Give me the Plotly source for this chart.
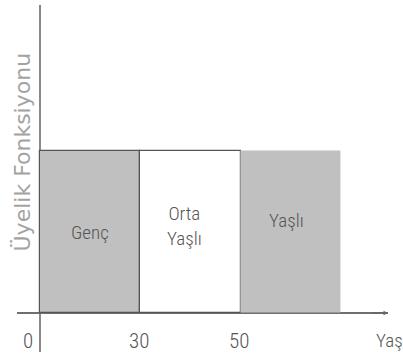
import plotly.graph_objects as go

# Membership sets (interval index 0..3 maps to ages 0, 30, 50, ...)
set_names = ['Genç', 'Orta<br>Yaşlı', 'Yaşlı']
set_start = [0, 1, 2]
set_width = [1, 1, 1]
membership = [1, 1, 1]
fill_colors = ['#c0c0c0', '#ffffff', '#c0c0c0']
edge_colors = ['#555555', '#555555', 'rgba(0,0,0,0)']

tick_pos = [0, 1, 2]
tick_text = ['0', '30', '50']

narrow = 'Roboto Condensed, Roboto, sans-serif'
label_font = {'family': narrow, 'size': 19, 'color': '#555555', 'weight': 300}
tick_font = {'family': narrow, 'size': 21, 'color': '#555555', 'weight': 300}

fig = go.Figure()
fig.add_trace(go.Bar(
    x=[s + w / 2 for s, w in zip(set_start, set_width)],
    y=membership,
    width=set_width,
    marker={'color': fill_colors, 'line': {'color': edge_colors, 'width': 1.2}},
    hoverinfo='skip',
    showlegend=False,
))

annotations = []
# label placement inside each set (layout only)
label_x = [0.5, 1.44, 2.46]
label_y = [0.5, 0.54, 0.57]
for name, lx, ly in zip(set_names, label_x, label_y):
    annotations.append(dict(x=lx, y=ly, text=name, showarrow=False, font=label_font))

tick_x = [-0.12, 0.99, 1.98]
for t, tx in zip(tick_text, tick_x):
    annotations.append(dict(x=tx, y=-0.17, text=t, showarrow=False, font=tick_font))

# axis name at the far right (kept inside the page)
annotations.append(dict(x=3.33, y=-0.17, text='Yaş', showarrow=False, xanchor='left',
                        font={**tick_font, 'size': 19}))

# y axis title
annotations.append(dict(xref='paper', yref='paper', x=0.0135, y=0.575, text='Üyelik Fonksiyonu',
                        textangle=-90, showarrow=False, xanchor='center', yanchor='middle',
                        font={'family': 'DejaVu Sans', 'size': 22, 'color': '#a3a3a3'}))

# arrow heads
annotations.append(dict(x=3.47, y=0, ax=3.3, ay=0, axref='x', ayref='y', text='',
                        showarrow=True, arrowhead=2, arrowsize=0.6, arrowwidth=1.5, arrowcolor='#666666'))
annotations.append(dict(x=0, y=1.9, ax=0, ay=1.75, axref='x', ayref='y', text='',
                        showarrow=True, arrowhead=2, arrowsize=0.4, arrowwidth=1.2, arrowcolor='#888888'))

fig.update_layout(
    width=403, height=360,
    margin={'l': 17, 'r': 15, 't': 5, 'b': 8, 'autoexpand': False},
    paper_bgcolor='white', plot_bgcolor='white',
    annotations=annotations,
    bargap=0,
)
fig.update_xaxes(range=[-0.23, 3.47], showgrid=False, showticklabels=False, ticks='',
                 zeroline=True, zerolinecolor='#8a8a8a', zerolinewidth=1.5)
fig.update_yaxes(range=[-0.24, 1.9], showgrid=False, showticklabels=False, ticks='',
                 zeroline=True, zerolinecolor='#6f6f6f', zerolinewidth=2)

fig.write_html('out.html', config={'displayModeBar': False},
               post_script="document.body.style.margin='0';")
